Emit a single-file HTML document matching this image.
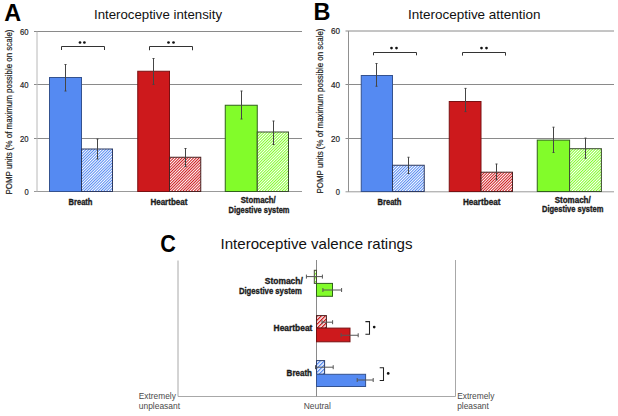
<!DOCTYPE html>
<html><head><meta charset="utf-8"><style>
html,body{margin:0;padding:0;background:#fff;width:618px;height:416px;overflow:hidden;}
svg{display:block;font-family:"Liberation Sans",sans-serif;}
</style></head><body>
<svg width="618" height="416" viewBox="0 0 618 416" font-family="Liberation Sans, sans-serif"><defs>
<pattern id="hb" patternUnits="userSpaceOnUse" width="2.0" height="2.0" patternTransform="rotate(45)"><rect width="2.0" height="2.0" fill="#fff"/><rect width="1.0" height="2.0" fill="#558af2"/></pattern>
<pattern id="hr" patternUnits="userSpaceOnUse" width="2.0" height="2.0" patternTransform="rotate(45)"><rect width="2.0" height="2.0" fill="#fff"/><rect width="1.0" height="2.0" fill="#cd191c"/></pattern>
<pattern id="hg" patternUnits="userSpaceOnUse" width="2.0" height="2.0" patternTransform="rotate(45)"><rect width="2.0" height="2.0" fill="#fff"/><rect width="1.0" height="2.0" fill="#82fc2a"/></pattern>
<pattern id="hb2" patternUnits="userSpaceOnUse" width="2.83" height="2.83" patternTransform="rotate(45)"><rect width="2.83" height="2.83" fill="#fff"/><rect width="1.35" height="2.83" fill="#558af2"/></pattern>
<pattern id="hr2" patternUnits="userSpaceOnUse" width="2.83" height="2.83" patternTransform="rotate(45)"><rect width="2.83" height="2.83" fill="#fff"/><rect width="1.35" height="2.83" fill="#cd191c"/></pattern>
<pattern id="hg2" patternUnits="userSpaceOnUse" width="2.83" height="2.83" patternTransform="rotate(45)"><rect width="2.83" height="2.83" fill="#fff"/><rect width="1.35" height="2.83" fill="#82fc2a"/></pattern>
</defs>
<rect width="618" height="416" fill="#fff"/>
<text x="4.2" y="20.8" font-size="23" font-weight="bold" fill="#000" text-anchor="start" textLength="16.9" lengthAdjust="spacingAndGlyphs" >A</text>
<text x="94" y="19.2" font-size="13" font-weight="normal" fill="#111" text-anchor="start" textLength="128" lengthAdjust="spacingAndGlyphs" >Interoceptive intensity</text>
<line x1="34" y1="31.5" x2="302" y2="31.5" stroke="#8a8a8a" stroke-width="1"/>
<line x1="34" y1="84.5" x2="302" y2="84.5" stroke="#8a8a8a" stroke-width="1"/>
<line x1="34" y1="138.5" x2="302" y2="138.5" stroke="#8a8a8a" stroke-width="1"/>
<line x1="34" y1="191.5" x2="302" y2="191.5" stroke="#999" stroke-width="1"/>
<line x1="37" y1="31.5" x2="37" y2="191.5" stroke="#b8b8b8" stroke-width="1"/>
<text x="28.6" y="34.6" font-size="9.2" font-weight="normal" fill="#222" text-anchor="end" textLength="8.5" lengthAdjust="spacingAndGlyphs" stroke="#222" stroke-width="0.2">60</text>
<text x="28.6" y="87.6" font-size="9.2" font-weight="normal" fill="#222" text-anchor="end" textLength="8.5" lengthAdjust="spacingAndGlyphs" stroke="#222" stroke-width="0.2">40</text>
<text x="28.6" y="141.6" font-size="9.2" font-weight="normal" fill="#222" text-anchor="end" textLength="8.5" lengthAdjust="spacingAndGlyphs" stroke="#222" stroke-width="0.2">20</text>
<text x="28.6" y="194.6" font-size="9.2" font-weight="normal" fill="#222" text-anchor="end" textLength="4.2" lengthAdjust="spacingAndGlyphs" stroke="#222" stroke-width="0.2">0</text>
<text transform="translate(12.4,112) rotate(-90)" x="0" y="0" font-size="8.2" fill="#1a1a1a" stroke="#1a1a1a" stroke-width="0.18" text-anchor="middle" textLength="165" lengthAdjust="spacingAndGlyphs">POMP units (% of maximum possible on scale)</text>
<rect x="49.5" y="77.5" width="32.0" height="114.0" fill="#558af2" stroke="#34528f" stroke-width="1"/>
<line x1="65.5" y1="64.5" x2="65.5" y2="91" stroke="#454545" stroke-width="1"/>
<line x1="64.5" y1="64.5" x2="66.5" y2="64.5" stroke="#454545" stroke-width="1"/>
<line x1="64.5" y1="91" x2="66.5" y2="91" stroke="#454545" stroke-width="1"/>
<rect x="81.5" y="149" width="31.0" height="42.5" fill="url(#hb)" stroke="#2e3a60" stroke-width="1"/>
<line x1="97.5" y1="139" x2="97.5" y2="159" stroke="#454545" stroke-width="1"/>
<line x1="96.5" y1="139" x2="98.5" y2="139" stroke="#454545" stroke-width="1"/>
<line x1="96.5" y1="159" x2="98.5" y2="159" stroke="#454545" stroke-width="1"/>
<rect x="137.75" y="71.25" width="31.75" height="120.25" fill="#cd191c" stroke="#7a1012" stroke-width="1"/>
<line x1="153.5" y1="58.5" x2="153.5" y2="84.4" stroke="#454545" stroke-width="1"/>
<line x1="152.5" y1="58.5" x2="154.5" y2="58.5" stroke="#454545" stroke-width="1"/>
<line x1="152.5" y1="84.4" x2="154.5" y2="84.4" stroke="#454545" stroke-width="1"/>
<rect x="169.5" y="157.25" width="31.25" height="34.25" fill="url(#hr)" stroke="#4a2222" stroke-width="1"/>
<line x1="185.5" y1="148.5" x2="185.5" y2="166.5" stroke="#454545" stroke-width="1"/>
<line x1="184.5" y1="148.5" x2="186.5" y2="148.5" stroke="#454545" stroke-width="1"/>
<line x1="184.5" y1="166.5" x2="186.5" y2="166.5" stroke="#454545" stroke-width="1"/>
<rect x="225.25" y="105.25" width="32.0" height="86.25" fill="#82fc2a" stroke="#30601c" stroke-width="1"/>
<line x1="241.5" y1="91" x2="241.5" y2="119" stroke="#454545" stroke-width="1"/>
<line x1="240.5" y1="91" x2="242.5" y2="91" stroke="#454545" stroke-width="1"/>
<line x1="240.5" y1="119" x2="242.5" y2="119" stroke="#454545" stroke-width="1"/>
<rect x="257.25" y="132" width="31.25" height="59.5" fill="url(#hg)" stroke="#3a4a30" stroke-width="1"/>
<line x1="273.5" y1="121" x2="273.5" y2="144.5" stroke="#454545" stroke-width="1"/>
<line x1="272.5" y1="121" x2="274.5" y2="121" stroke="#454545" stroke-width="1"/>
<line x1="272.5" y1="144.5" x2="274.5" y2="144.5" stroke="#454545" stroke-width="1"/>
<path d="M61.5 50 V46.5 H104.5 V50" fill="none" stroke="#333" stroke-width="1"/>
<circle cx="80" cy="42.5" r="1.35" fill="#111"/>
<circle cx="84.4" cy="42.5" r="1.35" fill="#111"/>
<path d="M149.5 50.25 V46.5 H192.5 V50.25" fill="none" stroke="#333" stroke-width="1"/>
<circle cx="168.5" cy="42.5" r="1.35" fill="#111"/>
<circle cx="173.5" cy="42.5" r="1.35" fill="#111"/>
<text x="68.5" y="205" font-size="9" font-weight="bold" fill="#1a1a1a" text-anchor="start" textLength="24" lengthAdjust="spacingAndGlyphs"  stroke="#1a1a1a" stroke-width="0.35">Breath</text>
<text x="150.4" y="204.6" font-size="9" font-weight="bold" fill="#1a1a1a" text-anchor="start" textLength="37" lengthAdjust="spacingAndGlyphs"  stroke="#1a1a1a" stroke-width="0.35">Heartbeat</text>
<text x="240.7" y="203" font-size="9" font-weight="bold" fill="#1a1a1a" text-anchor="start" textLength="35" lengthAdjust="spacingAndGlyphs"  stroke="#1a1a1a" stroke-width="0.35">Stomach/</text>
<text x="228.5" y="212.5" font-size="9" font-weight="bold" fill="#1a1a1a" text-anchor="start" textLength="61" lengthAdjust="spacingAndGlyphs"  stroke="#1a1a1a" stroke-width="0.35">Digestive system</text>
<text x="313.5" y="20" font-size="23.5" font-weight="bold" fill="#000" text-anchor="start" >B</text>
<text x="408" y="18.6" font-size="13" font-weight="normal" fill="#111" text-anchor="start" textLength="132.5" lengthAdjust="spacingAndGlyphs" >Interoceptive attention</text>
<line x1="345.5" y1="31" x2="614" y2="31" stroke="#8a8a8a" stroke-width="1"/>
<line x1="345.5" y1="84.5" x2="614" y2="84.5" stroke="#8a8a8a" stroke-width="1"/>
<line x1="345.5" y1="138.5" x2="614" y2="138.5" stroke="#8a8a8a" stroke-width="1"/>
<line x1="345.5" y1="191.8" x2="614" y2="191.8" stroke="#999" stroke-width="1"/>
<line x1="348.5" y1="31" x2="348.5" y2="191.8" stroke="#909090" stroke-width="1"/>
<text x="340.0" y="34.0" font-size="9.2" font-weight="normal" fill="#222" text-anchor="end" textLength="9.0" lengthAdjust="spacingAndGlyphs" stroke="#222" stroke-width="0.2">60</text>
<text x="340.0" y="87.5" font-size="9.2" font-weight="normal" fill="#222" text-anchor="end" textLength="9.0" lengthAdjust="spacingAndGlyphs" stroke="#222" stroke-width="0.2">40</text>
<text x="340.0" y="141.5" font-size="9.2" font-weight="normal" fill="#222" text-anchor="end" textLength="9.0" lengthAdjust="spacingAndGlyphs" stroke="#222" stroke-width="0.2">20</text>
<text x="340.0" y="194.8" font-size="9.2" font-weight="normal" fill="#222" text-anchor="end" textLength="4.2" lengthAdjust="spacingAndGlyphs" stroke="#222" stroke-width="0.2">0</text>
<text transform="translate(323.1,111.0) rotate(-90)" x="0" y="0" font-size="8.2" fill="#1a1a1a" stroke="#1a1a1a" stroke-width="0.18" text-anchor="middle" textLength="165" lengthAdjust="spacingAndGlyphs">POMP units (% of maximum possible on scale)</text>
<rect x="361.25" y="75.5" width="31.25" height="116.0" fill="#558af2" stroke="#34528f" stroke-width="1"/>
<line x1="376.5" y1="63.5" x2="376.5" y2="86.25" stroke="#454545" stroke-width="1"/>
<line x1="375.5" y1="63.5" x2="377.5" y2="63.5" stroke="#454545" stroke-width="1"/>
<line x1="375.5" y1="86.25" x2="377.5" y2="86.25" stroke="#454545" stroke-width="1"/>
<rect x="392.5" y="165.25" width="31.75" height="26.25" fill="url(#hb)" stroke="#2e3a60" stroke-width="1"/>
<line x1="408.5" y1="157.25" x2="408.5" y2="173.5" stroke="#454545" stroke-width="1"/>
<line x1="407.5" y1="157.25" x2="409.5" y2="157.25" stroke="#454545" stroke-width="1"/>
<line x1="407.5" y1="173.5" x2="409.5" y2="173.5" stroke="#454545" stroke-width="1"/>
<rect x="449.25" y="101.5" width="31.75" height="90.0" fill="#cd191c" stroke="#7a1012" stroke-width="1"/>
<line x1="465.5" y1="88.4" x2="465.5" y2="111.6" stroke="#454545" stroke-width="1"/>
<line x1="464.5" y1="88.4" x2="466.5" y2="88.4" stroke="#454545" stroke-width="1"/>
<line x1="464.5" y1="111.6" x2="466.5" y2="111.6" stroke="#454545" stroke-width="1"/>
<rect x="481" y="172.2" width="31.5" height="19.30000000000001" fill="url(#hr)" stroke="#4a2222" stroke-width="1"/>
<line x1="496.5" y1="164" x2="496.5" y2="179.8" stroke="#454545" stroke-width="1"/>
<line x1="495.5" y1="164" x2="497.5" y2="164" stroke="#454545" stroke-width="1"/>
<line x1="495.5" y1="179.8" x2="497.5" y2="179.8" stroke="#454545" stroke-width="1"/>
<rect x="537.25" y="140.1" width="32.35000000000002" height="51.400000000000006" fill="#82fc2a" stroke="#30601c" stroke-width="1"/>
<line x1="553.5" y1="127.2" x2="553.5" y2="152.5" stroke="#454545" stroke-width="1"/>
<line x1="552.5" y1="127.2" x2="554.5" y2="127.2" stroke="#454545" stroke-width="1"/>
<line x1="552.5" y1="152.5" x2="554.5" y2="152.5" stroke="#454545" stroke-width="1"/>
<rect x="569.6" y="148.7" width="31.799999999999955" height="42.80000000000001" fill="url(#hg)" stroke="#3a4a30" stroke-width="1"/>
<line x1="585.5" y1="138.1" x2="585.5" y2="158.3" stroke="#454545" stroke-width="1"/>
<line x1="584.5" y1="138.1" x2="586.5" y2="138.1" stroke="#454545" stroke-width="1"/>
<line x1="584.5" y1="158.3" x2="586.5" y2="158.3" stroke="#454545" stroke-width="1"/>
<path d="M373.5 55.3 V52.5 H416.5 V55.3" fill="none" stroke="#333" stroke-width="1"/>
<circle cx="391.5" cy="48.1" r="1.35" fill="#111"/>
<circle cx="396.5" cy="48.1" r="1.35" fill="#111"/>
<path d="M462.5 55.6 V52.5 H505.5 V55.6" fill="none" stroke="#333" stroke-width="1"/>
<circle cx="481.5" cy="48.1" r="1.35" fill="#111"/>
<circle cx="486.5" cy="48.1" r="1.35" fill="#111"/>
<text x="377.5" y="204.5" font-size="9" font-weight="bold" fill="#1a1a1a" text-anchor="start" textLength="24" lengthAdjust="spacingAndGlyphs"  stroke="#1a1a1a" stroke-width="0.35">Breath</text>
<text x="462.9" y="204.8" font-size="9" font-weight="bold" fill="#1a1a1a" text-anchor="start" textLength="37.5" lengthAdjust="spacingAndGlyphs"  stroke="#1a1a1a" stroke-width="0.35">Heartbeat</text>
<text x="554.7" y="203.3" font-size="9" font-weight="bold" fill="#1a1a1a" text-anchor="start" textLength="36" lengthAdjust="spacingAndGlyphs"  stroke="#1a1a1a" stroke-width="0.35">Stomach/</text>
<text x="542" y="212.3" font-size="9" font-weight="bold" fill="#1a1a1a" text-anchor="start" textLength="61.4" lengthAdjust="spacingAndGlyphs"  stroke="#1a1a1a" stroke-width="0.35">Digestive system</text>
<text x="160.2" y="252" font-size="23.5" font-weight="bold" fill="#000" text-anchor="start" textLength="15.6" lengthAdjust="spacingAndGlyphs" >C</text>
<text x="220.5" y="249.3" font-size="14.5" font-weight="normal" fill="#111" text-anchor="start" textLength="192" lengthAdjust="spacingAndGlyphs" >Interoceptive valence ratings</text>
<line x1="178" y1="260.5" x2="178" y2="396.5" stroke="#a8a8a8" stroke-width="1"/>
<line x1="455.5" y1="260" x2="455.5" y2="396.5" stroke="#a8a8a8" stroke-width="1"/>
<line x1="178" y1="396.5" x2="455.5" y2="396.5" stroke="#a8a8a8" stroke-width="1"/>
<line x1="316.5" y1="260" x2="316.5" y2="396.5" stroke="#8a8a8a" stroke-width="1"/>
<rect x="314.3" y="270.3" width="2.1999999999999886" height="13.099999999999966" fill="url(#hg2)" stroke="#4a4a3a" stroke-width="1"/>
<line x1="306.4" y1="276.6" x2="322.4" y2="276.6" stroke="#555" stroke-width="1"/>
<line x1="306.4" y1="274.6" x2="306.4" y2="278.6" stroke="#555" stroke-width="1"/>
<line x1="322.4" y1="274.6" x2="322.4" y2="278.6" stroke="#555" stroke-width="1"/>
<rect x="316.5" y="283.4" width="16.0" height="12.900000000000034" fill="#82fc2a" stroke="#30601c" stroke-width="1"/>
<line x1="322.9" y1="290" x2="341.6" y2="290" stroke="#555" stroke-width="1"/>
<line x1="322.9" y1="288" x2="322.9" y2="292" stroke="#555" stroke-width="1"/>
<line x1="341.6" y1="288" x2="341.6" y2="292" stroke="#555" stroke-width="1"/>
<rect x="316.5" y="315.6" width="9.899999999999977" height="12.5" fill="url(#hr2)" stroke="#4a2222" stroke-width="1"/>
<line x1="322" y1="322.2" x2="332.6" y2="322.2" stroke="#555" stroke-width="1"/>
<line x1="322" y1="320.2" x2="322" y2="324.2" stroke="#555" stroke-width="1"/>
<line x1="332.6" y1="320.2" x2="332.6" y2="324.2" stroke="#555" stroke-width="1"/>
<rect x="316.5" y="328.1" width="33.5" height="13.699999999999989" fill="#cd191c" stroke="#7a1012" stroke-width="1"/>
<line x1="341.1" y1="335.25" x2="358.2" y2="335.25" stroke="#555" stroke-width="1"/>
<line x1="341.1" y1="333.25" x2="341.1" y2="337.25" stroke="#555" stroke-width="1"/>
<line x1="358.2" y1="333.25" x2="358.2" y2="337.25" stroke="#555" stroke-width="1"/>
<rect x="316.5" y="360.6" width="8.100000000000023" height="13.699999999999989" fill="url(#hb2)" stroke="#2f3f6a" stroke-width="1"/>
<line x1="315.5" y1="367.2" x2="333.2" y2="367.2" stroke="#555" stroke-width="1"/>
<line x1="315.5" y1="365.2" x2="315.5" y2="369.2" stroke="#555" stroke-width="1"/>
<line x1="333.2" y1="365.2" x2="333.2" y2="369.2" stroke="#555" stroke-width="1"/>
<rect x="316.5" y="374.3" width="49.10000000000002" height="12.199999999999989" fill="#558af2" stroke="#34528f" stroke-width="1"/>
<line x1="357.2" y1="380" x2="373.2" y2="380" stroke="#555" stroke-width="1"/>
<line x1="357.2" y1="378" x2="357.2" y2="382" stroke="#555" stroke-width="1"/>
<line x1="373.2" y1="378" x2="373.2" y2="382" stroke="#555" stroke-width="1"/>
<path d="M365.4 321.6 H369.5 V334.3 H365.4" fill="none" stroke="#222" stroke-width="1.05"/>
<circle cx="374.2" cy="327.1" r="1.35" fill="#111"/>
<path d="M379.7 367.8 H383.5 V380.4 H379.7" fill="none" stroke="#222" stroke-width="1.05"/>
<circle cx="388.2" cy="373.4" r="1.35" fill="#111"/>
<text x="264.8" y="283.5" font-size="9" font-weight="bold" fill="#1a1a1a" text-anchor="start" textLength="38" lengthAdjust="spacingAndGlyphs"  stroke="#1a1a1a" stroke-width="0.35">Stomach/</text>
<text x="238.9" y="293.5" font-size="9" font-weight="bold" fill="#1a1a1a" text-anchor="start" textLength="63" lengthAdjust="spacingAndGlyphs"  stroke="#1a1a1a" stroke-width="0.35">Digestive system</text>
<text x="273.6" y="330.8" font-size="9" font-weight="bold" fill="#1a1a1a" text-anchor="start" textLength="38.8" lengthAdjust="spacingAndGlyphs"  stroke="#1a1a1a" stroke-width="0.35">Heartbeat</text>
<text x="286.6" y="375.9" font-size="9" font-weight="bold" fill="#1a1a1a" text-anchor="start" textLength="25.4" lengthAdjust="spacingAndGlyphs"  stroke="#1a1a1a" stroke-width="0.35">Breath</text>
<text x="138.8" y="398.8" font-size="8.8" font-weight="normal" fill="#4a4a4a" text-anchor="start" textLength="37" lengthAdjust="spacingAndGlyphs" >Extremely</text>
<text x="138.8" y="409" font-size="8.8" font-weight="normal" fill="#4a4a4a" text-anchor="start" textLength="41.2" lengthAdjust="spacingAndGlyphs" >unpleasant</text>
<text x="303.7" y="409" font-size="8.8" font-weight="normal" fill="#4a4a4a" text-anchor="start" textLength="27.2" lengthAdjust="spacingAndGlyphs" >Neutral</text>
<text x="457.2" y="398.8" font-size="8.8" font-weight="normal" fill="#4a4a4a" text-anchor="start" textLength="37.2" lengthAdjust="spacingAndGlyphs" >Extremely</text>
<text x="457.2" y="409" font-size="8.8" font-weight="normal" fill="#4a4a4a" text-anchor="start" textLength="31.6" lengthAdjust="spacingAndGlyphs" >pleasant</text></svg>
</body></html>
